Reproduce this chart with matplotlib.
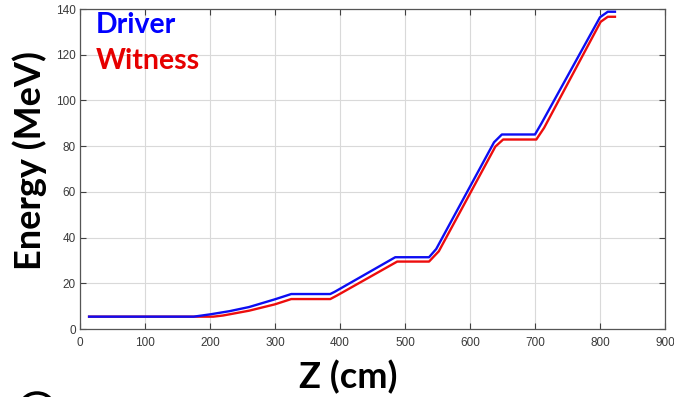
import matplotlib
matplotlib.use("Agg")
import matplotlib.pyplot as plt
from matplotlib.patches import Arc

# Data
driver_z = [14, 100, 175, 200, 230, 260, 300, 325, 385, 392, 485, 537, 548, 637, 649, 700, 710, 800, 812, 823]
driver_e = [5.4, 5.4, 5.4, 6.4, 7.8, 9.6, 13.0, 15.3, 15.3, 16.3, 31.4, 31.4, 35.0, 81.7, 85.1, 85.1, 90.0, 136.4, 138.8, 138.8]

witness_z = [14, 100, 180, 205, 220, 260, 300, 325, 385, 395, 488, 537, 552, 639, 651, 702, 714, 801, 812, 823]
witness_e = [5.4, 5.4, 5.4, 5.4, 5.9, 8.0, 10.8, 13.1, 13.1, 14.6, 29.5, 29.5, 34.0, 79.8, 82.9, 82.9, 88.0, 134.4, 136.6, 136.6]

xticks = [0, 100, 200, 300, 400, 500, 600, 700, 800, 900]
yticks = [0, 20, 40, 60, 80, 100, 120, 140]

W, H = 674, 397
fig = plt.figure(figsize=(W/100, H/100), dpi=100)
ax = fig.add_axes([80/W, 1-329/H, 585/W, 320/H])

ax.plot(witness_z, witness_e, color=(0.93, 0.05, 0.05), lw=1.7, zorder=3)
ax.plot(driver_z, driver_e, color=(0.05, 0.05, 0.95), lw=1.7, zorder=4)

ax.set_xlim(0, 900)
ax.set_ylim(0, 140)
ax.set_xticks(xticks)
ax.set_yticks(yticks)
ax.grid(True, color="#d9d9d9", lw=0.8)
ax.tick_params(direction="in", top=True, right=True, length=4, width=0.8,
               labelsize=8.5, colors="#404040", labelcolor="#3a3a3a")
ax.tick_params(axis="x", pad=5.5)
ax.tick_params(axis="y", pad=3)
for t in ax.get_xticklabels() + ax.get_yticklabels():
    t.set_family("Liberation Sans")
for s in ax.spines.values():
    s.set_color("#555555")
    s.set_linewidth(0.9)

fig.text(348/W, 1-377/H, "Z (cm)", fontsize=26, fontweight="bold", family="Lato",
         ha="center", va="center")
fig.text(30/W, 1-161/H, "Energy (MeV)", fontsize=26, fontweight="bold", family="Lato",
         ha="center", va="center", rotation=90)

ax.text(16/585, 1-3/320, "Driver", transform=ax.transAxes, color=(0, 0, 1),
        fontsize=20.5, fontweight="bold", family="Lato", va="top", ha="left")
ax.text(16/585, 1-39/320, "Witness", transform=ax.transAxes, color=(0.9, 0, 0),
        fontsize=20.5, fontweight="bold", family="Lato", va="top", ha="left")

# cropped circle artifact in bottom-left corner
arc = Arc((37/W, 1-406/H), 32/W, 26/H, theta1=45, theta2=135,
          transform=fig.transFigure, color="black", lw=2.5)
fig.add_artist(arc)

fig.savefig("out.png", dpi=100)
